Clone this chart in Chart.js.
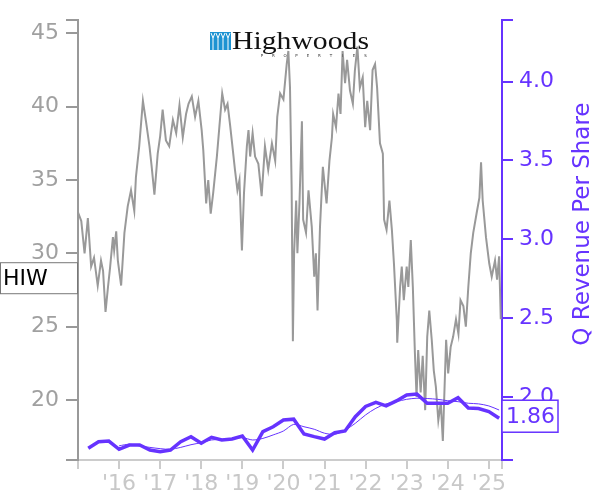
<!DOCTYPE html>
<html>
<head>
<meta charset="utf-8">
<title>HIW</title>
<script src="https://cdn.jsdelivr.net/npm/chart.js@4.4.1/dist/chart.umd.min.js"></script>
<style>
  html, body { margin: 0; padding: 0; background: #fff; }
</style>
</head>
<body>
<canvas id="chart" width="600" height="500"></canvas>
<script>
// price of HIW (left axis), dates as decimal years
const priceDates = [
  2015.00, 2015.08, 2015.16, 2015.24, 2015.32, 2015.39, 2015.48, 2015.56, 2015.61, 2015.67,
  2015.73, 2015.78, 2015.85, 2015.88, 2015.93, 2015.97, 2016.05, 2016.13, 2016.21, 2016.29,
  2016.37, 2016.41, 2016.49, 2016.58, 2016.66, 2016.74, 2016.79, 2016.86, 2016.94, 2017.00,
  2017.06, 2017.14, 2017.22, 2017.31, 2017.39, 2017.47, 2017.55, 2017.63, 2017.69, 2017.77,
  2017.85, 2017.93, 2018.01, 2018.05, 2018.12, 2018.17, 2018.23, 2018.29, 2018.38, 2018.44,
  2018.51, 2018.58, 2018.64, 2018.70, 2018.77, 2018.82, 2018.88, 2018.93, 2018.99, 2019.04,
  2019.11, 2019.15, 2019.19, 2019.25, 2019.31, 2019.39, 2019.47, 2019.55, 2019.63, 2019.72,
  2019.80, 2019.85, 2019.92, 2020.00, 2020.08, 2020.12, 2020.16, 2020.20, 2020.23, 2020.26,
  2020.31, 2020.34, 2020.39, 2020.45, 2020.48, 2020.55, 2020.61, 2020.69, 2020.75, 2020.79,
  2020.83, 2020.89, 2020.96, 2021.01, 2021.05, 2021.12, 2021.18, 2021.21, 2021.28, 2021.34,
  2021.39, 2021.44, 2021.50, 2021.55, 2021.62, 2021.69, 2021.74, 2021.80, 2021.86, 2021.93,
  2021.99, 2022.04, 2022.11, 2022.17, 2022.23, 2022.28, 2022.35, 2022.42, 2022.45, 2022.51,
  2022.58, 2022.64, 2022.69, 2022.76, 2022.77, 2022.84, 2022.88, 2022.93, 2023.00, 2023.04,
  2023.10, 2023.15, 2023.20, 2023.24, 2023.28, 2023.34, 2023.39, 2023.45, 2023.50, 2023.55,
  2023.61, 2023.66, 2023.71, 2023.77, 2023.83, 2023.88, 2023.91, 2023.96, 2024.01, 2024.07,
  2024.13, 2024.20, 2024.26, 2024.31, 2024.38, 2024.44, 2024.50, 2024.56, 2024.62, 2024.70,
  2024.77, 2024.81, 2024.85, 2024.93, 2025.01, 2025.07, 2025.15, 2025.20, 2025.25, 2025.29
];
const priceValues = [
  32.8, 32.2, 30.0, 32.4, 29.1, 29.7, 27.8, 29.5, 28.8, 26.0,
  27.7, 29.0, 31.1, 30.2, 31.5, 29.5, 27.8, 31.4, 33.2, 34.3,
  32.9, 35.2, 37.3, 40.4, 38.9, 37.3, 36.0, 34.0, 36.8, 38.0,
  39.8, 37.7, 37.3, 39.1, 38.2, 40.1, 37.9, 39.5, 40.2, 40.7,
  39.3, 40.4, 38.4, 37.0, 33.4, 35.0, 32.7, 34.1, 36.6, 38.6,
  40.9, 39.8, 40.2, 38.8, 37.0, 35.7, 34.3, 35.0, 30.2, 34.1,
  37.3, 38.4, 36.6, 38.2, 36.6, 36.1, 33.9, 37.3, 35.7, 37.5,
  36.3, 39.3, 40.9, 40.5, 42.9, 43.8, 41.3, 34.5, 24.0, 30.0,
  33.6, 30.0, 33.4, 39.0, 32.3, 31.4, 34.3, 31.8, 28.4, 30.0,
  26.1, 31.8, 35.9, 34.5, 33.4, 36.3, 37.9, 39.5, 38.6, 40.9,
  39.5, 43.8, 41.6, 43.2, 41.1, 40.2, 42.5, 44.1, 41.3, 42.0,
  38.6, 40.4, 38.4, 42.5, 42.9, 41.3, 37.5, 36.8, 32.3, 31.6,
  33.6, 31.6, 29.3, 25.4, 23.9, 27.7, 29.1, 26.8, 29.1, 27.7,
  30.9, 27.7, 23.2, 20.2, 23.4, 20.5, 23.0, 19.3, 24.3, 26.1,
  24.1, 22.0, 20.9, 18.6, 19.8, 17.2, 19.8, 24.1, 21.8, 23.6,
  24.3, 25.5, 24.5, 26.8, 26.4, 25.0, 27.7, 30.0, 31.4, 32.7,
  33.8, 36.2, 33.6, 31.1, 29.3, 28.4, 29.5, 28.2, 29.8, 25.5
];

// quarterly revenue per share (right axis)
const revDates = [
  2015.25, 2015.50, 2015.75, 2016.00, 2016.25, 2016.50, 2016.75, 2017.00, 2017.25, 2017.50,
  2017.75, 2018.00, 2018.25, 2018.50, 2018.75, 2019.00, 2019.25, 2019.50, 2019.75, 2020.00,
  2020.25, 2020.50, 2020.75, 2021.00, 2021.25, 2021.50, 2021.75, 2022.00, 2022.25, 2022.50,
  2022.75, 2023.00, 2023.25, 2023.50, 2023.75, 2024.00, 2024.25, 2024.50, 2024.75, 2025.00,
  2025.25
];
const revValues = [
  1.674, 1.716, 1.720, 1.668, 1.695, 1.695, 1.663, 1.653, 1.663, 1.716,
  1.748, 1.706, 1.744, 1.727, 1.733, 1.752, 1.663, 1.780, 1.811, 1.854,
  1.859, 1.765, 1.748, 1.733, 1.773, 1.784, 1.875, 1.940, 1.965, 1.943,
  1.975, 2.013, 2.018, 1.960, 1.960, 1.960, 1.995, 1.930, 1.927, 1.907,
  1.865
];
// thin smoothed line
const revAvgValues = [
  null, null, null, 1.690, 1.700, 1.689, 1.680, 1.672, 1.668, 1.680,
  1.697, 1.710, 1.727, 1.731, 1.733, 1.742, 1.727, 1.737, 1.759, 1.784,
  1.826, 1.811, 1.795, 1.770, 1.763, 1.790, 1.833, 1.886, 1.928, 1.956,
  1.970, 1.985, 1.992, 1.990, 1.985, 1.976, 1.970, 1.960, 1.956, 1.943,
  1.917
];

const priceTicks = [20, 25, 30, 35, 40, 45];
const revTicks = [2.0, 2.5, 3.0, 3.5, 4.0];
const yearTicks = [2016, 2017, 2018, 2019, 2020, 2021, 2022, 2023, 2024, 2025];

const tickerName = 'HIW';
const tickerLabelAt = 28.3;
const lastRevLabel = '1.86';

const purple = '#6633ff';
const gray = '#999999';
const lightGray = '#cccccc';

function pairs(xs, ys) {
  return xs.map((x, i) => ({ x: x, y: ys[i] }));
}

// keep min/max as tick marks (caps) but without text
function boundTicks(list) {
  return function(scale) {
    const vals = [scale.min].concat(list, [scale.max]);
    scale.ticks = vals.map(v => ({ value: v }));
  };
}

const overlay = {
  id: 'overlay',
  afterDraw(chart) {
    const ctx = chart.ctx;
    const yL = chart.scales.y;
    const yR = chart.scales.y1;
    const area = chart.chartArea;

    // logo
    ctx.save();
    ctx.fillStyle = '#1d93d2';
    ctx.fillRect(210, 32, 21, 18);
    ctx.strokeStyle = '#ffffff';
    ctx.lineWidth = 1;
    for (let i = 0; i < 4; i++) {
      ctx.beginPath();
      ctx.moveTo(213 + i * 5, 50);
      ctx.lineTo(213 + i * 5, 38);
      ctx.lineTo(211 + i * 5, 33);
      ctx.moveTo(213 + i * 5, 38);
      ctx.lineTo(215 + i * 5, 33);
      ctx.stroke();
    }
    ctx.fillStyle = '#111111';
    ctx.font = '26px "Liberation Serif", serif';
    ctx.textBaseline = 'alphabetic';
    ctx.textAlign = 'left';
    const w = ctx.measureText('Highwoods').width;
    ctx.translate(232, 49);
    ctx.scale(137 / w, 1);
    ctx.fillText('Highwoods', 0, 0);
    ctx.restore();

    ctx.save();
    ctx.fillStyle = '#333333';
    ctx.font = '4px "DejaVu Sans", sans-serif';
    ctx.textAlign = 'center';
    'PROPERTIES'.split('').forEach((c, i) => ctx.fillText(c, 262 + i * 11.5, 57));
    ctx.restore();

    // ticker box on left
    ctx.save();
    const hy = yL.getPixelForValue(tickerLabelAt);
    ctx.fillStyle = '#ffffff';
    ctx.fillRect(0.5, hy - 15.5, area.left - 1, 31);
    ctx.strokeStyle = '#777777';
    ctx.lineWidth = 1;
    ctx.strokeRect(0.5, hy - 15.5, area.left - 1, 31);
    ctx.fillStyle = '#000000';
    ctx.font = '22px "DejaVu Sans", sans-serif';
    ctx.textBaseline = 'middle';
    ctx.fillText(tickerName, 3, hy + 1);
    ctx.restore();

    // last value box on right
    ctx.save();
    const ry = yR.getPixelForValue(revValues[revValues.length - 1]) - 2;
    ctx.fillStyle = '#ffffff';
    ctx.fillRect(area.right, ry - 16, 56, 32);
    ctx.strokeStyle = purple;
    ctx.lineWidth = 1.5;
    ctx.strokeRect(area.right, ry - 16, 56, 32);
    ctx.fillStyle = purple;
    ctx.font = '22px "DejaVu Sans", sans-serif';
    ctx.textBaseline = 'middle';
    ctx.fillText(lastRevLabel, area.right + 4, ry + 1);
    ctx.restore();

    // right axis title, reading bottom to top
    ctx.save();
    ctx.fillStyle = purple;
    ctx.font = '23px "DejaVu Sans", sans-serif';
    ctx.textAlign = 'center';
    ctx.textBaseline = 'alphabetic';
    ctx.translate(589, (area.top + area.bottom) / 2 - 16);
    ctx.rotate(-Math.PI / 2);
    ctx.fillText('Q Revenue Per Share', 0, 0);
    ctx.restore();
  }
};

const ctx = document.getElementById('chart').getContext('2d');
const chart = new Chart(ctx, {
  type: 'line',
  data: {
    datasets: [
      {
        label: 'Q Revenue Per Share',
        data: pairs(revDates, revValues),
        yAxisID: 'y1',
        borderColor: purple,
        borderWidth: 3.5,
        pointRadius: 0,
        tension: 0
      },
      {
        label: 'Average',
        data: pairs(revDates, revAvgValues),
        yAxisID: 'y1',
        borderColor: purple,
        borderWidth: 1,
        pointRadius: 0,
        tension: 0.3
      },
      {
        label: 'HIW',
        data: pairs(priceDates, priceValues),
        yAxisID: 'y',
        borderColor: gray,
        borderWidth: 2,
        pointRadius: 0,
        tension: 0
      }
    ]
  },
  options: {
    responsive: false,
    animation: false,
    layout: { padding: { top: 20, left: 0, right: 0, bottom: 0 } },
    plugins: { legend: { display: false }, tooltip: { enabled: false } },
    scales: {
      x: {
        type: 'linear',
        position: 'bottom',
        min: 2015,
        max: 2025.32,
        afterBuildTicks: boundTicks(yearTicks),
        afterFit: s => { s.height = 40; },
        ticks: {
          autoSkip: false,
          maxRotation: 0,
          padding: 2,
          color: '#c8c8c8',
          font: { family: 'DejaVu Sans', size: 22 },
          callback: v => yearTicks.includes(v) ? "'" + String(v).slice(2) : ''
        },
        grid: { drawOnChartArea: false, tickLength: 9, color: lightGray, lineWidth: 2 },
        border: { color: lightGray, width: 2 }
      },
      y: {
        position: 'left',
        min: 15.9,
        max: 45.9,
        afterBuildTicks: boundTicks(priceTicks),
        afterFit: s => { s.width = 78; },
        ticks: {
          padding: 7,
          color: '#a0a0a0',
          font: { family: 'DejaVu Sans', size: 22 },
          callback: v => priceTicks.includes(v) ? String(v) : ''
        },
        grid: { drawOnChartArea: false, tickLength: 12, color: gray, lineWidth: 2 },
        border: { color: gray, width: 2 }
      },
      y1: {
        position: 'right',
        min: 1.6,
        max: 4.39,
        afterBuildTicks: boundTicks(revTicks),
        afterFit: s => { s.width = 98; },
        ticks: {
          padding: 6,
          color: purple,
          font: { family: 'DejaVu Sans', size: 22 },
          callback: v => revTicks.includes(v) ? v.toFixed(1) : ''
        },
        grid: { drawOnChartArea: false, tickLength: 11, color: purple, lineWidth: 2 },
        border: { color: purple, width: 2 }
      }
    }
  },
  plugins: [overlay]
});
</script>
</body>
</html>
